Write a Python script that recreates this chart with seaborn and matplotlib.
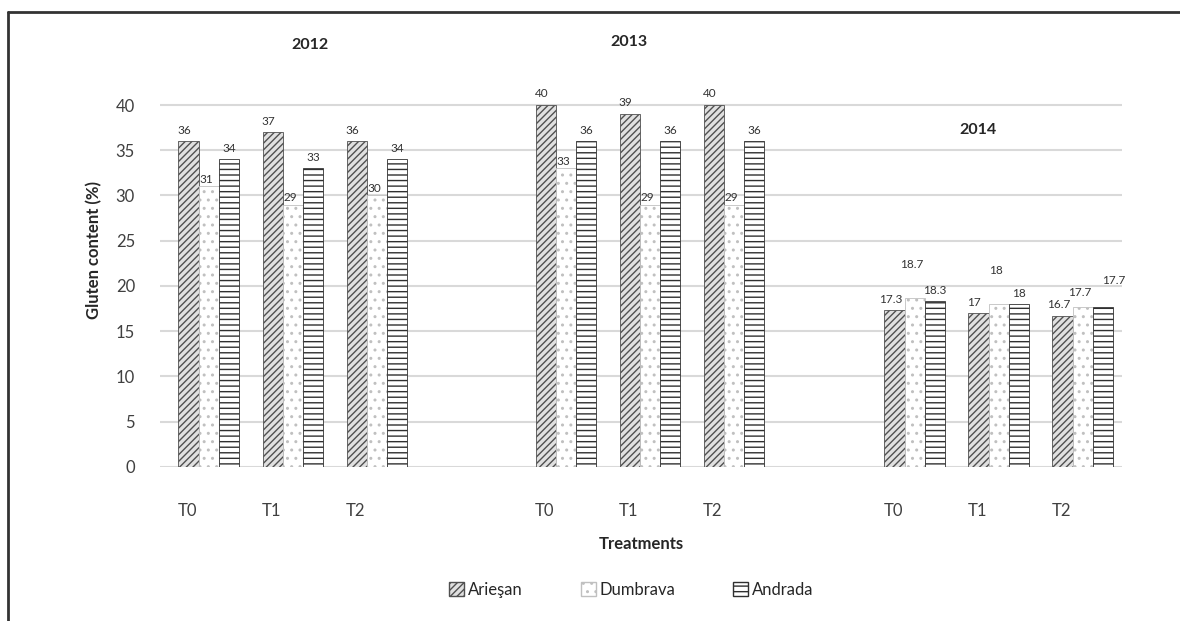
import matplotlib
matplotlib.use('Agg')
import matplotlib.pyplot as plt
from matplotlib.patches import Patch
from matplotlib.lines import Line2D
import pandas as pd
import seaborn as sns

# data
years = ['2012', '2013', '2014']
treatments = ['T0', 'T1', 'T2']
varieties = ['Arieşan', 'Dumbrava', 'Andrada']
ariesan = [36, 37, 36, 40, 39, 40, 17.3, 17, 16.7]
dumbrava = [31, 29, 30, 33, 29, 29, 18.7, 18, 17.7]
andrada = [34, 33, 34, 36, 36, 36, 18.3, 18, 17.7]

# slot positions (groups separated by a wider gap)
group_start = [0, 4.25, 8.4]
tick_pos = [g + i for g in group_start for i in range(3)]
# the 3D bars sit a little right of their tick labels
bar_pos = [p + 0.25 for p in tick_pos]

rows = []
for v, vals in zip(varieties, [ariesan, dumbrava, andrada]):
    for p, val in zip(bar_pos, vals):
        rows.append({'pos': p, 'value': val, 'variety': v})
df = pd.DataFrame(rows)

sns.set_style('white')
plt.rcParams['font.family'] = ['Lato', 'DejaVu Sans']

fig = plt.figure(figsize=(11.8, 6.21), dpi=100)
ax = fig.add_axes([0.1356, 0.248, 0.8154, 0.6995])

face = {'Arieşan': '#e0e0e0', 'Dumbrava': '#ffffff', 'Andrada': '#ffffff'}
sns.barplot(data=df, x='pos', y='value', hue='variety', native_scale=True,
            palette=face, width=0.72, ax=ax, legend=False, errorbar=None,
            zorder=3)

styles = {'Arieşan': ('/////', '#505050'),
          'Dumbrava': ('..', '#c0c0c0'),
          'Andrada': ('---', '#303030')}

# label offsets (points), mimicking the placement in the 3D original
def label_offset(v, i):
    if v == 'Arieşan':
        return (-3, 4)
    if v == 'Dumbrava':
        if i >= 6:
            return (-2, 20) if i < 8 else (-2, 6)
        return (-2, 1)
    if i == 8:
        return (8, 15)
    return (0, 4)

for cont, v in zip(ax.containers, varieties):
    hatch, ec = styles[v]
    for bar in cont:
        bar.set_hatch(hatch)
        bar.set_edgecolor(ec)
        bar.set_linewidth(0.6)
    texts = ax.bar_label(cont, fmt='%g', padding=3, fontsize=8.5,
                         color='#333333', zorder=5)
    for i, t in enumerate(texts):
        t.xyann = label_offset(v, i)

ax.set_ylim(0, 48)
ax.set_xlim(-0.33, 11.12)
ax.set_yticks(range(0, 41, 5))
ax.set_xticks(tick_pos)
ax.set_xticklabels(treatments * 3)
ax.yaxis.grid(True, color='#d9d9d9', linewidth=1.5, zorder=0)
ax.set_axisbelow(True)
for s in ax.spines.values():
    s.set_visible(False)
ax.tick_params(axis='y', length=0, pad=18, labelsize=12, labelcolor='#404040')
ax.tick_params(axis='x', length=0, pad=26, labelsize=12, labelcolor='#404040')

ax.set_xlabel('Treatments', fontsize=12, fontweight='bold', color='#262626',
              labelpad=12)
ax.set_ylabel('Gluten content (%)', fontsize=12, fontweight='bold',
              color='#262626', labelpad=10)

# year headings
year_xy = [(1.45, 46.6), (5.25, 47.0), (9.4, 37.2)]
for y, (xx, yy) in zip(years, year_xy):
    ax.text(xx, yy, y, ha='center', va='center', fontsize=11.5,
            fontweight='bold', color='#262626')

handles = [Patch(facecolor=face[v], edgecolor=styles[v][1],
                 hatch=styles[v][0], label=v) for v in varieties]
fig.legend(handles=handles, loc='center', bbox_to_anchor=(0.535, 0.05),
           ncol=3, frameon=False, fontsize=12, handlelength=0.9,
           handleheight=0.9, handletextpad=0.2, columnspacing=3.5)

# frame lines of the original picture (open to the right and bottom)
fig.add_artist(Line2D([0.007, 1.0], [0.98, 0.98], color='#333333',
                      linewidth=2, transform=fig.transFigure))
fig.add_artist(Line2D([0.007, 0.007], [0.0, 0.98], color='#333333',
                      linewidth=2, transform=fig.transFigure))

fig.savefig('out.png', dpi=100)
